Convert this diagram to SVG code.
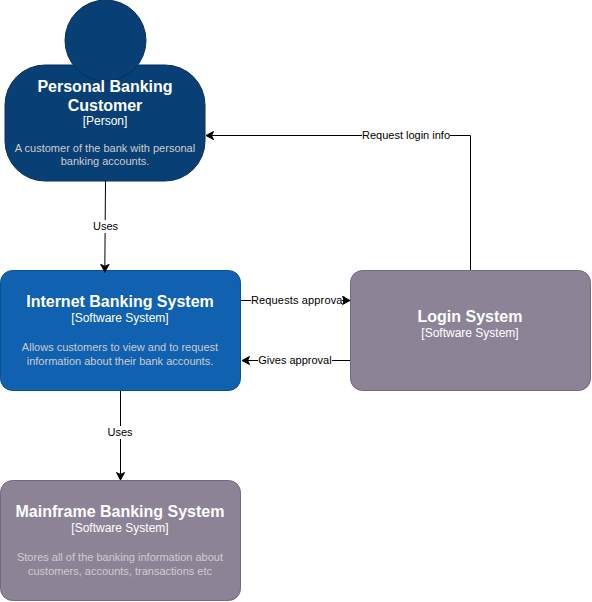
<svg xmlns="http://www.w3.org/2000/svg" width="592" height="602" viewBox="0 0 592 602">
<style>
text{font-family:"Liberation Sans",Arial,sans-serif;text-anchor:middle}
.t{font-size:16px;font-weight:bold;fill:#fff}
.s{font-size:12px;fill:#fff}
.d{font-size:11px;fill:#ccc}
.l{font-size:11px;fill:#000}
.c{fill:none;stroke:#000;stroke-width:1}
.lb{fill:#fff;stroke:none}
.person{fill:#083F75;stroke:#06315C}
.blue{fill:#1061B0;stroke:#0D5091}
.grey{fill:#8C8496;stroke:#736782}
</style>
<defs>
<marker id="a" markerUnits="userSpaceOnUse" markerWidth="9" markerHeight="10" refX="8" refY="5" orient="auto">
<path d="M0.5 1L8 5L0.5 9L2.5 5Z" fill="#000" stroke="#000"/>
</marker>
</defs>
<g id="customer">
<rect class="person" x="5" y="65" width="200" height="116" rx="40" ry="40"/>
<circle class="person" cx="105.500" cy="40.500" r="40.500"/>
<text class="t" x="105" y="92">Personal Banking</text>
<text class="t" x="105" y="111">Customer</text>
<text class="s" x="105" y="125">[Person]</text>
<text class="d" x="105" y="152">A customer of the bank with personal</text>
<text class="d" x="105" y="165">banking accounts.</text>
</g>
<g id="internet-banking">
<rect class="blue" x="0.500" y="270.500" width="240" height="120" rx="12" ry="12"/>
<text class="t" x="120" y="307">Internet Banking System</text>
<text class="s" x="120" y="322">[Software System]</text>
<text class="d" x="120" y="351">Allows customers to view and to request</text>
<text class="d" x="120" y="365">information about their bank accounts.</text>
</g>
<g id="mainframe">
<rect class="grey" x="0.500" y="480.500" width="240" height="120" rx="12" ry="12"/>
<text class="t" x="120" y="517">Mainframe Banking System</text>
<text class="s" x="120" y="532">[Software System]</text>
<text class="d" x="120" y="561">Stores all of the banking information about</text>
<text class="d" x="120" y="575">customers, accounts, transactions etc</text>
</g>
<g id="login">
<rect class="grey" x="350.500" y="270.500" width="240" height="120" rx="12" ry="12"/>
<text class="t" x="470" y="322">Login System</text>
<text class="s" x="470" y="337">[Software System]</text>
</g>
<g id="connectors">
<path class="c" d="M105.500 181L104.800 272" marker-end="url(#a)"/>
<rect class="lb" x="92" y="220" width="27" height="13"/>
<text class="l" x="105.500" y="230">Uses</text>
<path class="c" d="M120.500 391V480" marker-end="url(#a)"/>
<rect class="lb" x="107" y="426" width="27" height="13"/>
<text class="l" x="120" y="436">Uses</text>
<path class="c" d="M241 300.500H350" marker-end="url(#a)"/>
<rect class="lb" x="251" y="294" width="91" height="13"/>
<text class="l" x="298" y="304" textLength="94">Requests approval</text>
<path class="c" d="M350 360.500H242" marker-end="url(#a)"/>
<rect class="lb" x="258" y="354" width="74" height="13"/>
<text class="l" x="295" y="364">Gives approval</text>
<path class="c" d="M470.500 270V135.500H206" marker-end="url(#a)"/>
<rect class="lb" x="362" y="129" width="88" height="13"/>
<text class="l" x="406" y="139">Request login info</text>
</g>
</svg>
